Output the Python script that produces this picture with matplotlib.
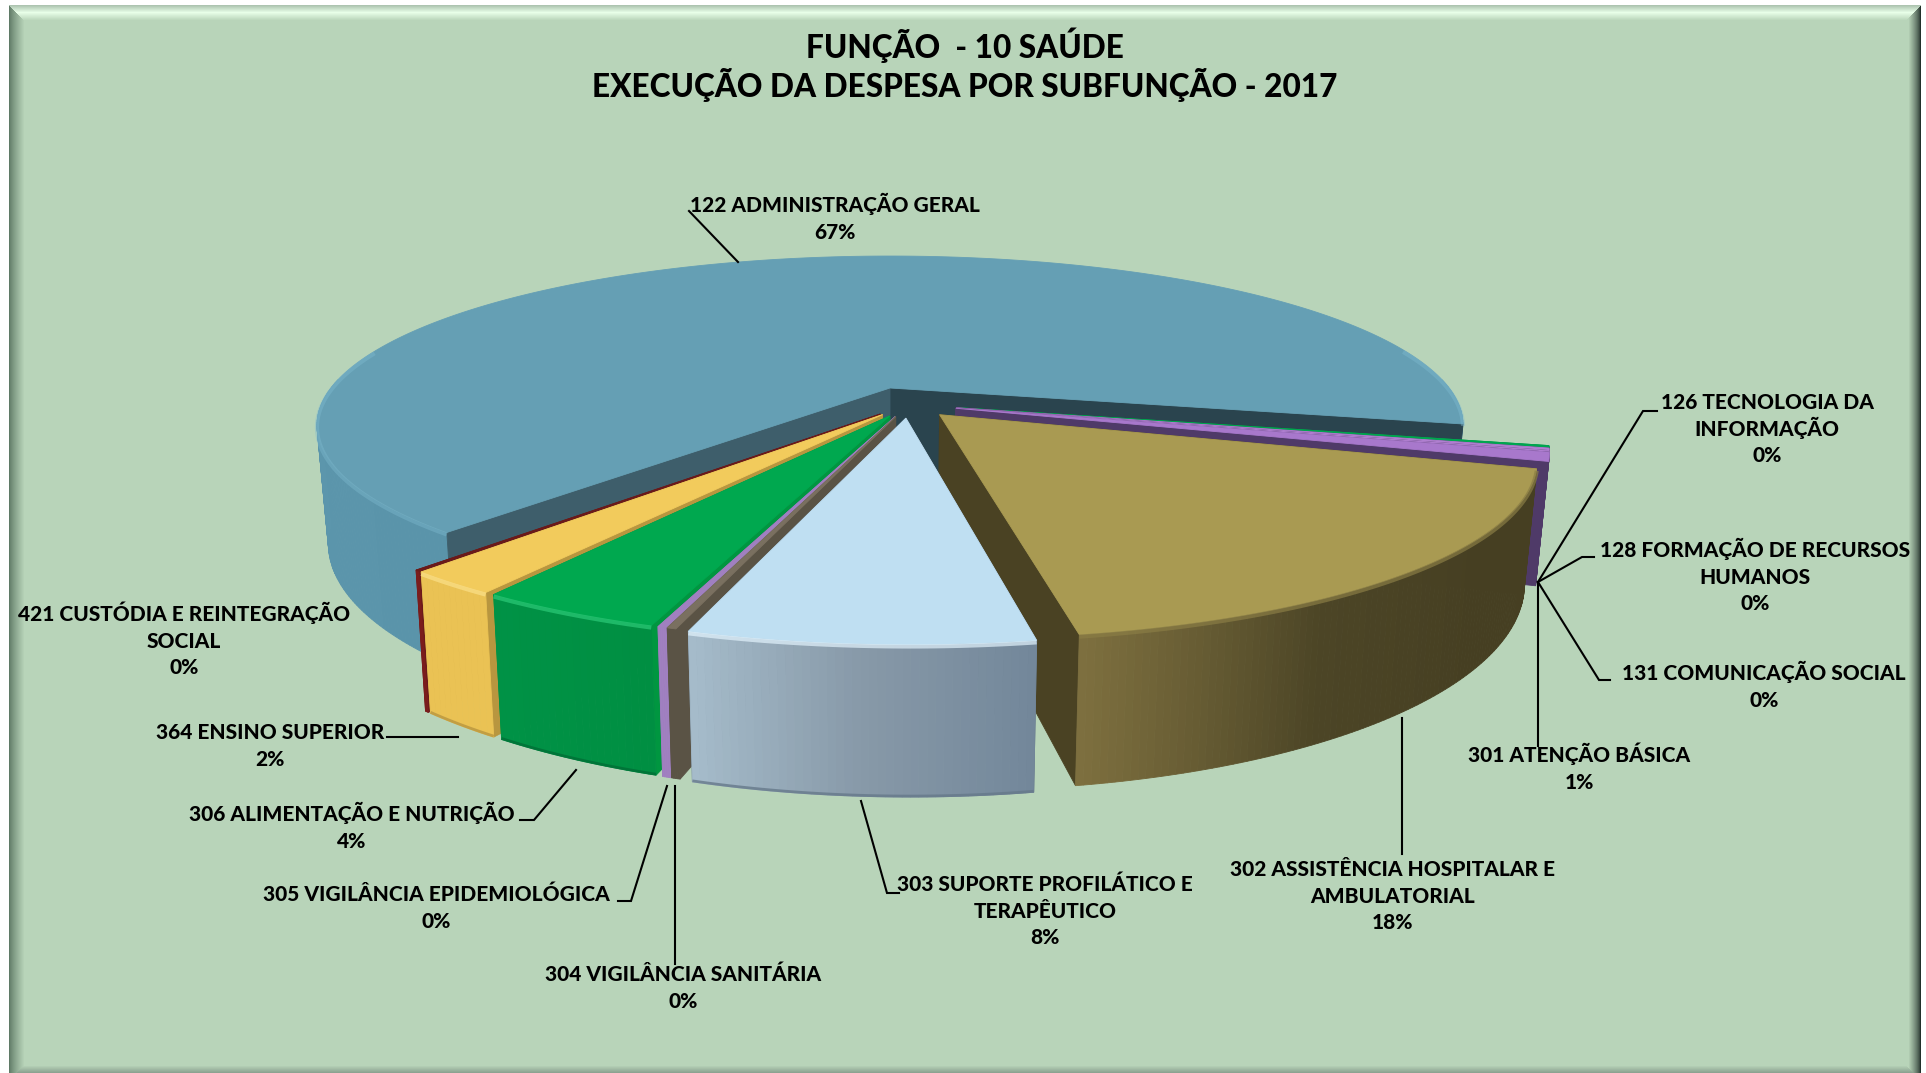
import numpy as np
import matplotlib
matplotlib.use("Agg")
import matplotlib.pyplot as plt
from matplotlib.colors import to_rgb

# ---------- data (clockwise from the right-hand cut of the pie) ----------
names = ["126 TECNOLOGIA DA\nINFORMAÇÃO", "128 FORMAÇÃO DE RECURSOS\nHUMANOS", "131 COMUNICAÇÃO SOCIAL",
         "301 ATENÇÃO BÁSICA", "302 ASSISTÊNCIA HOSPITALAR E\nAMBULATORIAL",
         "303 SUPORTE PROFILÁTICO E\nTERAPÊUTICO", "304 VIGILÂNCIA SANITÁRIA",
         "305 VIGILÂNCIA EPIDEMIOLÓGICA", "306 ALIMENTAÇÃO E NUTRIÇÃO", "364 ENSINO SUPERIOR",
         "421 CUSTÓDIA E REINTEGRAÇÃO\nSOCIAL", "122 ADMINISTRAÇÃO GERAL"]
values = [0.2, 0.2, 0.1, 0.8, 17.6, 7.5, 0.2, 0.2, 4.1, 2.1, 0.1, 66.9]
title = ["FUNÇÃO  - 10 SAÚDE", "EXECUÇÃO DA DESPESA POR SUBFUNÇÃO - 2017"]

# ---------- style ----------
explode = [.085, .085, .085, .085, .08, .08, .075, .075, .075, .075, .075, .105]
top_col = ["#00A650", "#B07FD0", "#B07FD0", "#A878CC", "#A99A52", "#BFDFF2", "#7A7060", "#A080C0",
           "#00A84F", "#F2CB5C", "#6A1A1A", "#659FB4"]
face_col = ["#009640", "#4F3A68", "#4F3A68", "#4F3A68", "#4A4223", "#5E7080", "#5A5345", "#8A6FB0",
            "#009640", "#B8963F", "#6A1A1A", "#3E5E6B"]
face_col2 = {11: "#2A444E"}
wall_stops = [["#00A650"] * 2, ["#4F3A68"] * 2, ["#4F3A68"] * 2, ["#4F3A68"] * 2,
              ["#463F22", "#463F22", "#4C4526", "#7E703F"],
              ["#72879A", "#8799A8", "#A6BCCB"],
              ["#5A5345"] * 2, ["#A080C0"] * 2,
              ["#008F42", "#009246"], ["#EAC254", "#EAC254"], ["#7A1C1C"] * 2,
              ["#5A94AA", "#5F99AF", "#5F99AF"]]
rim_col = [None, None, None, None, "#8A7D45", "#E2F3FD", None, None, "#2CCB78", "#FBE08A", None, "#7FBBD0"]
rim_alpha = [.7] * 11 + [.4]
base_rim = [None, None, None, None, None, "#66798A", None, None, "#006F36", "#B8963F", None, None]
draw_order = [11, 0, 1, 2, 3, 4, 10, 9, 8, 7, 6, 5]

W, H_px = 1926, 1073
BG = np.array(to_rgb("#B8D4B9"))
CX, CY, R, A, K, H = 890.0, 388.0, 559.0, 161.0, 0.22, 113.0
START = -12.3
FONT = "Lato"
WEIGHT = 900

fig = plt.figure(figsize=(W / 100, H_px / 100), dpi=100)
ax = fig.add_axes([0, 0, 1, 1])
ax.axis("off")

# ---------- bevelled frame ----------
img = np.ones((H_px, W, 3))
L, T, Rt, B = 9, 5, 1921, 1073
img[T:B, L:Rt] = BG
def mix(a, b, t):
    return np.array(a) * (1 - t) + np.array(b) * t
for i in range(15):
    t = i / 15
    img[T + i:B - 0, L + i] = mix(to_rgb("#5F7A66"), BG, t ** .8)
    img[T + i:B, Rt - 1 - i] = mix(to_rgb("#22302A"), BG, min(1, t * 1.25) ** .7)
for i in range(15):
    t = abs(i - 7) / 8
    img[T + i, L + i:Rt - i] = mix(to_rgb("#E8FFE8"), BG if i > 7 else to_rgb("#A5BCA8"), t)
for i in range(7):
    img[B - 1 - i, L + i + 8:Rt - i - 8] = mix(to_rgb("#8CA391"), BG, i / 7)
ax.imshow(img, extent=(0, W, H_px, 0), aspect="auto", zorder=0, interpolation="nearest")
ax.set_xlim(0, W)
ax.set_ylim(H_px, 0)

# ---------- pie ----------
def proj(u, v, z=0.0):
    u, v = np.asarray(u, float), np.asarray(v, float)
    s = 1 / (1 + K * v)
    return CX + R * u * s * (1 - .02 * z), CY - A * v * s + H * s * z

vals = np.array(values)
edges = START - 360 * np.concatenate([[0], np.cumsum(vals)]) / vals.sum()
mids = np.radians((edges[:-1] + edges[1:]) / 2)
big = int(np.argmax(vals))
c0 = -explode[big] * np.array([np.cos(mids[big]), np.sin(mids[big])])

z = 2
def poly(xs, ys, color, lw=0.6):
    global z
    ax.fill(xs, ys, color=color, lw=lw, zorder=z)
    z += .01

for i in draw_order:
    a0, a1 = np.radians(edges[i]), np.radians(edges[i + 1])
    ou = c0[0] + explode[i] * np.cos(mids[i])
    ov = c0[1] + explode[i] * np.sin(mids[i])
    n = max(4, int(abs(a1 - a0) * 90))
    th = np.linspace(a0, a1, n + 1)
    uu, vv = ou + np.cos(th), ov + np.sin(th)
    xt, yt = proj(uu, vv, 0)
    xb, yb = proj(uu, vv, 1)
    ax0, ay0 = proj(ou, ov, 0)
    bx0, by0 = proj(ou, ov, 1)

    def faces():
        poly([ax0, xt[-1], xb[-1], bx0], [ay0, yt[-1], yb[-1], by0], face_col2.get(i, face_col[i]))
        poly([ax0, xt[0], xb[0], bx0], [ay0, yt[0], yb[0], by0], face_col[i])

    def wall():
        stops = [to_rgb(c) for c in wall_stops[i]]
        tt = np.linspace(0, 1, len(stops))
        for j in range(n):
            if np.sin(th[j]) > .05 and np.sin(th[j + 1]) > .05:
                continue
            f = (j + .5) / n
            col = [np.interp(f, tt, [c[k] for c in stops]) for k in range(3)]
            poly([xt[j], xt[j + 1], xb[j + 1], xb[j]], [yt[j], yt[j + 1], yb[j + 1], yb[j]], col)

    # the reflex slice shows its cut faces in front of its wall; the others hide them behind it
    if i == big:
        wall()
        faces()
    else:
        faces()
        wall()
    poly(np.r_[ax0, xt], np.r_[ay0, yt], top_col[i])
    front = np.sin(th) < .25
    if rim_col[i]:
        ax.plot(xt, np.where(front, yt + 2, np.nan), color=rim_col[i], lw=3, alpha=rim_alpha[i], zorder=z,
                solid_capstyle="butt")
        z += .01
    if base_rim[i]:
        ax.plot(xb, np.where(front, yb - 1, np.nan), color=base_rim[i], lw=2, alpha=.8, zorder=z,
                solid_capstyle="butt")
        z += .01

# ---------- leaders ----------
LZ = 50
leaders = {
    "122": [(689, 211), (738, 262)],
    "126": [(1657, 411), (1643, 411), (1538, 582)],
    "128": [(1594, 557), (1582, 557), (1538, 582)],
    "131": [(1610, 680), (1599, 680), (1538, 582)],
    "301": [(1538, 582), (1538, 746)],
    "302": [(1402, 718), (1402, 854)],
    "303": [(861, 801), (887, 893), (899, 893)],
    "304": [(675, 786), (675, 964)],
    "305": [(667, 786), (631, 901), (618, 901)],
    "306": [(576, 770), (534, 820), (520, 820)],
    "364": [(458, 737), (387, 737)],
}
for pts in leaders.values():
    ax.plot(*zip(*pts), color="black", lw=1.5, zorder=LZ, solid_joinstyle="miter")

# ---------- labels (centre x, centre y of the first line) ----------
label_pos = [(1767, 401), (1755, 549), (1764, 672), (1579, 754), (1393, 868), (1045, 883), (683, 973),
             (436, 893), (352, 813), (270, 731), (184, 613), (835, 204)]
LABEL_PT, TITLE_PT, PITCH, T_PITCH = 15.0, 22.7, 26.6, 39.0
for name, v, (x, y) in zip(names, values, label_pos):
    for k, line in enumerate(f"{name}\n{round(v)}%".split("\n")):
        ax.text(x, y + 8 + k * PITCH, line, ha="center", va="baseline", family=FONT, weight=WEIGHT,
                fontsize=LABEL_PT, color="black", zorder=LZ + 1)
for k, line in enumerate(title):
    ax.text(965, 58 + k * T_PITCH, line, ha="center", va="baseline", family=FONT, weight=WEIGHT,
            fontsize=TITLE_PT, color="black", zorder=LZ + 1)

fig.savefig("out.png", dpi=100)
